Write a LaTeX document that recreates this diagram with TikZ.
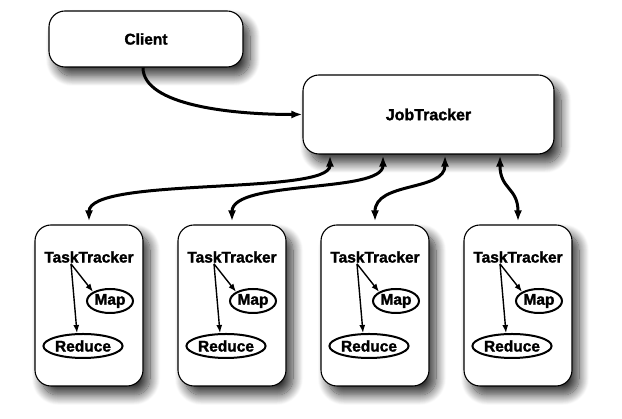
\documentclass[tikz,border=0pt]{standalone}
\usepackage{fontspec}
\setmainfont{Liberation Sans}[BoldFeatures={FakeBold=1.6}]
\usetikzlibrary{arrows.meta, shapes.geometric, shadows.blur}

\begin{document}
\begin{tikzpicture}[
   x=1pt, y=1pt,
   >={Latex[length=11pt,width=8pt]},
   box/.style={draw, line width=1.1pt, fill=white, rounded corners=16pt,
               blur shadow={shadow xshift=7pt, shadow yshift=-9pt,
                            shadow blur radius=10pt, shadow blur steps=14,
                            shadow opacity=80}},
   ttbox/.style={box, minimum width=108pt, minimum height=161pt},
   ttlabel/.style={font=\bfseries\fontsize{15.5}{17}\selectfont, inner sep=1pt},
   task/.style={draw, ellipse, line width=2pt, inner sep=0pt,
                font=\bfseries\fontsize{15.5}{17}\selectfont},
   link/.style={<->, line width=3pt},      % JobTracker <-> TaskTracker
   sub/.style={-{Latex[length=8pt,width=6pt]}, line width=1.4pt}  % inside a tracker
]
\useasboundingbox (0,0) rectangle (622,419);

% --- the two top boxes
\node[box, minimum width=194pt, minimum height=56pt,
      font=\bfseries\fontsize{15.5}{17}\selectfont] (Client) at (146,380) {Client};
\node[box, minimum width=251pt, minimum height=79pt,
      font=\bfseries\fontsize{16}{18}\selectfont] (JobTracker) at (428.5,304.5) {JobTracker};

% --- the four task trackers
\node[ttbox] (TT1) at (89,113.5) {};
\node[ttbox] (TT2) at (232,113.5) {};
\node[ttbox] (TT3) at (375,113.5) {};
\node[ttbox] (TT4) at (518,113.5) {};

% labels, map and reduce tasks in each tracker
\node[ttlabel] (TL1) at (89,162) {TaskTracker};
\node[task, minimum width=46pt, minimum height=24pt] (Map1) at (110,118) {Map};
\node[task, minimum width=76pt, minimum height=24pt] (Red1) at (83,73) {Reduce};

\node[ttlabel] (TL2) at (232,162) {TaskTracker};
\node[task, minimum width=46pt, minimum height=24pt] (Map2) at (253,118) {Map};
\node[task, minimum width=76pt, minimum height=24pt] (Red2) at (226,73) {Reduce};

\node[ttlabel] (TL3) at (375,162) {TaskTracker};
\node[task, minimum width=46pt, minimum height=24pt] (Map3) at (396,118) {Map};
\node[task, minimum width=76pt, minimum height=24pt] (Red3) at (369,73) {Reduce};

\node[ttlabel] (TL4) at (518,162) {TaskTracker};
\node[task, minimum width=46pt, minimum height=24pt] (Map4) at (539,118) {Map};
\node[task, minimum width=76pt, minimum height=24pt] (Red4) at (512,73) {Reduce};

% tracker -> tasks
\draw[sub] ([xshift=-18pt]TL1.south) -- (Map1.north west);
\draw[sub] ([xshift=-18pt]TL1.south) -- ([xshift=-6pt]Red1.north);
\draw[sub] ([xshift=-18pt]TL2.south) -- (Map2.north west);
\draw[sub] ([xshift=-18pt]TL2.south) -- ([xshift=-6pt]Red2.north);
\draw[sub] ([xshift=-18pt]TL3.south) -- (Map3.north west);
\draw[sub] ([xshift=-18pt]TL3.south) -- ([xshift=-6pt]Red3.north);
\draw[sub] ([xshift=-18pt]TL4.south) -- (Map4.north west);
\draw[sub] ([xshift=-18pt]TL4.south) -- ([xshift=-6pt]Red4.north);

% --- client submits to the job tracker
\draw[->, line width=3pt] ([xshift=-3pt]Client.south)
   .. controls +(0,-38) and +(-70,0) .. (JobTracker.west);

% --- job tracker talks to every task tracker
\draw[link] ([xshift=-98.5pt, yshift=-1pt]JobTracker.south)
   .. controls +(0,-40) and +(0,45) .. ([yshift=3pt]TT1.north);
\draw[link] ([xshift=-45.5pt, yshift=-1pt]JobTracker.south)
   .. controls +(0,-38) and +(0,42) .. ([yshift=3pt]TT2.north);
\draw[link] ([xshift=16.5pt, yshift=-1pt]JobTracker.south)
   .. controls +(0,-36) and +(0,40) .. ([yshift=3pt]TT3.north);
\draw[link] ([xshift=71.5pt, yshift=-1pt]JobTracker.south)
   .. controls +(0,-34) and +(0,34) .. ([yshift=3pt]TT4.north);

\end{tikzpicture}
\end{document}
